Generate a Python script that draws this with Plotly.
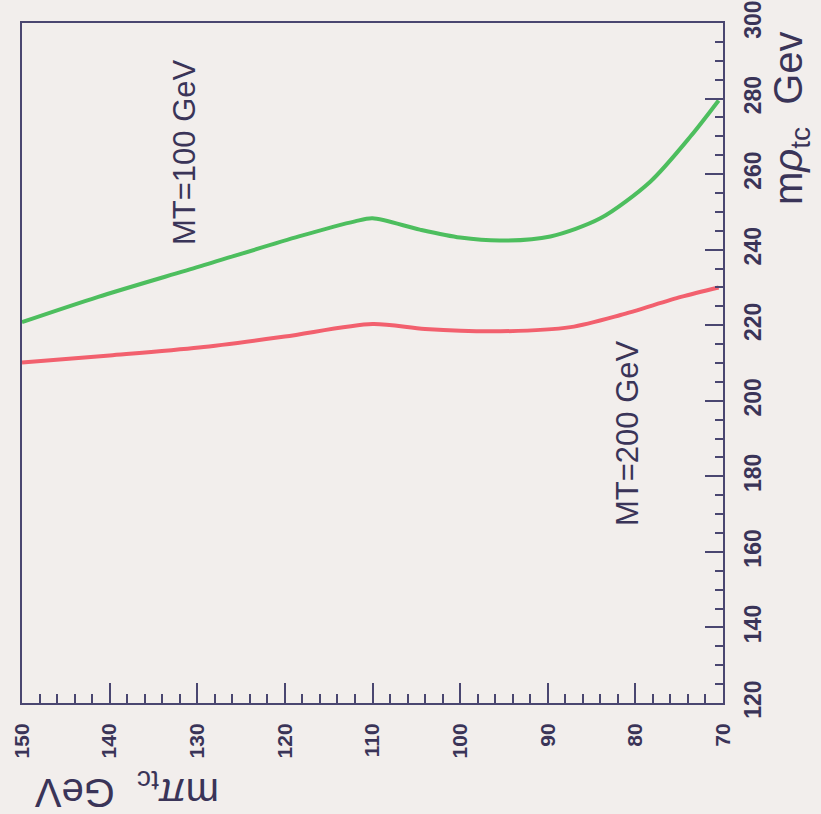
import plotly.graph_objects as go

# m_pi_tc (GeV) along the horizontal axis, m_rho_tc (GeV) along the vertical axis
mpi_100 = [150, 141.3, 129.8, 118.4, 112, 110, 104.6, 100, 95.4, 89.7, 84, 78.3, 73.7, 70.5]
mrho_100 = [220.8, 227.5, 235.5, 243.5, 247.5, 248.3, 245.3, 243.2, 242.4, 243.5, 248.3, 258, 270, 279.5]

mpi_200 = [150, 140, 129.8, 120, 110, 104, 95.4, 87.4, 81.7, 74.8, 70.5]
mrho_200 = [210.1, 212, 214.1, 217, 220.3, 219, 218.4, 219.5, 222.7, 227.5, 230]

x_ticks = [150, 140, 130, 120, 110, 100, 90, 80, 70]
y_ticks = [120, 140, 160, 180, 200, 220, 240, 260, 280, 300]

bg = "#F2EEEC"
axc = "#4A4670"
txt = "#3A3458"

W, H = 821, 814
L, R, T, B = 22, 98, 23, 111

fig = go.Figure()
fig.add_trace(go.Scatter(x=mpi_100, y=mrho_100, mode="lines",
                         line=dict(color="#4DBE5E", width=4, shape="spline", smoothing=0.8),
                         showlegend=False))
fig.add_trace(go.Scatter(x=mpi_200, y=mrho_200, mode="lines",
                         line=dict(color="#F2606E", width=4, shape="spline", smoothing=0.8),
                         showlegend=False))

fig.update_layout(
    width=W, height=H,
    margin=dict(l=L, r=R, t=T, b=B),
    paper_bgcolor=bg, plot_bgcolor=bg,
    font=dict(family="Liberation Sans", color=txt),
    xaxis=dict(range=[150, 70], tickvals=x_ticks, ticktext=[f"<b>{v}</b>" for v in x_ticks],
               tickangle=-90, showgrid=False, zeroline=False, showline=True, linecolor=axc,
               linewidth=2, mirror=True, ticks="inside", ticklen=20, tickcolor=axc, tickwidth=1.5,
               minor=dict(dtick=2, ticks="inside", ticklen=9, tickcolor=axc, tickwidth=1.5),
               tickfont=dict(size=21, family="Liberation Sans", color=txt), ticklabelstandoff=10,
               ticklabeloverflow="allow", automargin=False),
    yaxis=dict(range=[120, 300], side="right", tickvals=y_ticks, ticktext=[f"<b>{v}</b>" for v in y_ticks],
               tickangle=-90, showgrid=False, zeroline=False, showline=True, linecolor=axc,
               linewidth=2, mirror=True, ticks="inside", ticklen=18, tickcolor=axc, tickwidth=1.5,
               minor=dict(dtick=5, ticks="inside", ticklen=8, tickcolor=axc, tickwidth=1.5),
               tickfont=dict(size=23, family="Liberation Sans", color=txt), ticklabelstandoff=8,
               ticklabeloverflow="allow", automargin=False),
)

pw, ph = W - L - R, H - T - B
ann = [
    dict(xp=184, yp=152, text="MT=100 GeV", angle=-90, size=31),
    dict(xp=627, yp=433, text="MT=200 GeV", angle=-90, size=31),
    dict(xp=791, yp=118, text="m<i>ρ</i><sub>tc</sub>  Gev", angle=-90, size=40),
    dict(xp=127, yp=790, text="m<i>π</i><sub>tc</sub>  GeV", angle=180, size=40),
]
for a in ann:
    fig.add_annotation(x=(a["xp"] - L) / pw, y=1 - (a["yp"] - T) / ph, xref="paper", yref="paper",
                       xanchor="center", yanchor="middle", text=a["text"], showarrow=False,
                       textangle=a["angle"], font=dict(size=a["size"], color=txt, family="Liberation Sans"))

fig.write_html("out.html")
